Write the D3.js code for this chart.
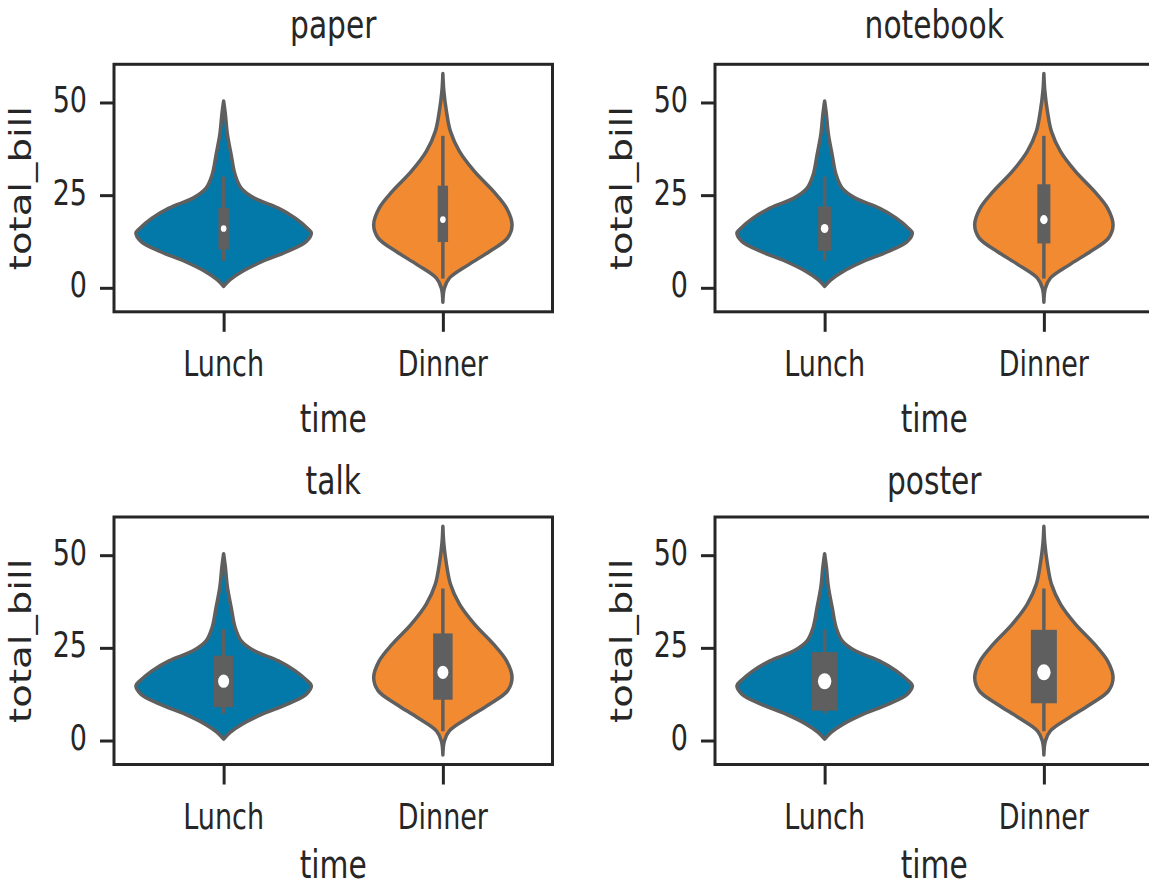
<!DOCTYPE html>
<html>
<head>
<meta charset="utf-8">
<script src="https://cdn.jsdelivr.net/npm/d3@7"></script>
<style>
  body { margin: 0; background: #fff; }
  svg { display: block; }
</style>
</head>
<body>
<svg id="chart" width="1149" height="888"></svg>
<script>
// data (tips: total_bill by time)
const contexts = ["paper", "notebook", "talk", "poster"];
const times = ["Lunch", "Dinner"];
const yTicks = [0, 25, 50];

// violin profiles: total_bill value and density relative to the widest violin
const lunchValues  = [50.4, 46.8, 41.4, 35.9, 30.5, 26.9, 24.2, 21.5, 18.8, 16.1, 14.8, 12.5, 9.8, 7.1, 4.4, 2.2, 0.4];
const lunchDensity = [0, 0.02, 0.043, 0.086, 0.131, 0.2, 0.349, 0.623, 0.817, 0.954, 1.0, 0.943, 0.726, 0.44, 0.211, 0.074, 0];
const dinnerValues  = [57.8, 53.1, 47.7, 42.2, 36.8, 31.4, 26.0, 21.5, 17.0, 13.4, 9.8, 6.2, 2.6, -0.1, -3.9];
const dinnerDensity = [0, 0.011, 0.04, 0.086, 0.189, 0.36, 0.577, 0.726, 0.789, 0.737, 0.531, 0.291, 0.074, 0.017, 0];

// inner box: [q1, median, q3] and whiskers [low, high]
const lunchBox = [11.9, 16.0, 20.0];
const dinnerBox = [13.9, 18.4, 26.0];
const lunchWhiskers = [7.3, 30.0];
const dinnerWhiskers = [2.5, 41.0];

const svg = d3.select("#chart");

const colors = { Lunch: "#0379aa", Dinner: "#f28a32" };
const lineGray = "#5f5f5f";
const ink = "#262626";
const stretch = 1.3;   // glyphs in the reference are taller than wide
const font = "DejaVu Sans, Verdana, sans-serif";

// size of the inner box / median dot per context
const boxWidth = { paper: 10.4, notebook: 13, talk: 19.5, poster: 26 };
const dotR = { paper: 2.8, notebook: 3.8, talk: 5.5, poster: 6.7 };

const panelW = 438.5, panelH = 247.5;
const origins = [
  { left: 114, top: 64.3, titleGap: 26, labelGap: 120 },
  { left: 715, top: 64.3, titleGap: 26, labelGap: 120 },
  { left: 114, top: 517, titleGap: 23, labelGap: 113 },
  { left: 715, top: 517, titleGap: 23, labelGap: 113 }
];

const groups = {
  Lunch: {
    profile: lunchValues.map((v, i) => ({ v: v, d: lunchDensity[i] })),
    box: lunchBox, whiskers: lunchWhiskers
  },
  Dinner: {
    profile: dinnerValues.map((v, i) => ({ v: v, d: dinnerDensity[i] })),
    box: dinnerBox, whiskers: dinnerWhiskers
  }
};

function stretchedText(g, x, y, str, size, anchor, rotate) {
  return g.append("text")
    .attr("transform", `translate(${x},${y}) scale(1,${stretch})` + (rotate ? " rotate(-90)" : ""))
    .attr("text-anchor", anchor)
    .attr("font-family", font)
    .attr("font-size", size)
    .attr("fill", ink)
    .text(str);
}

contexts.forEach((ctx, idx) => {
  const o = origins[idx];
  const left = o.left, top = o.top, right = left + panelW, bottom = top + panelH;

  const x = d3.scaleBand()
    .domain(times)
    .range([left, right])
    .paddingInner(0)
    .paddingOuter(0);

  const y = d3.scaleLinear()
    .domain([-6.47, 60.3])
    .range([bottom, top]);

  const halfMax = x.bandwidth() * 0.4;
  const g = svg.append("g").attr("class", "panel-" + ctx);

  times.forEach(t => {
    const cx = x(t) + x.bandwidth() / 2;
    const grp = groups[t];

    const area = d3.area()
      .y(d => y(d.v))
      .x0(d => cx - d.d * halfMax)
      .x1(d => cx + d.d * halfMax)
      .curve(d3.curveCatmullRom.alpha(0.5));

    g.append("path")
      .attr("d", area(grp.profile))
      .attr("fill", colors[t])
      .attr("stroke", lineGray)
      .attr("stroke-width", 3.5)
      .attr("stroke-linejoin", "round");

    // whiskers
    g.append("line")
      .attr("x1", cx).attr("x2", cx)
      .attr("y1", y(grp.whiskers[0]))
      .attr("y2", y(grp.whiskers[1]))
      .attr("stroke", lineGray)
      .attr("stroke-width", 3.5);

    // box, drawn like a thick line with projecting caps
    const bw = boxWidth[ctx];
    const ext = bw / 2 * 1.1;
    g.append("rect")
      .attr("x", cx - bw / 2)
      .attr("width", bw)
      .attr("y", y(grp.box[2]) - ext)
      .attr("height", y(grp.box[0]) - y(grp.box[2]) + 2 * ext)
      .attr("fill", lineGray);

    g.append("ellipse")
      .attr("cx", cx)
      .attr("cy", y(grp.box[1]))
      .attr("rx", dotR[ctx])
      .attr("ry", dotR[ctx] * 1.2)
      .attr("fill", "#fff");
  });

  // y axis ticks
  const yAxis = g.append("g")
    .attr("transform", `translate(${left},0)`)
    .call(d3.axisLeft(y).tickValues(yTicks).tickSize(14).tickSizeOuter(0));
  yAxis.select(".domain").remove();
  yAxis.selectAll(".tick line").attr("stroke", ink).attr("stroke-width", 3);
  yAxis.selectAll(".tick text").remove();
  yTicks.forEach(v => {
    stretchedText(g, left - 27, y(v) + 9.5, String(v), 27, "end");
  });

  // x axis ticks
  const xAxis = g.append("g")
    .attr("transform", `translate(0,${bottom})`)
    .call(d3.axisBottom(d3.scalePoint().domain(times).range([x("Lunch") + x.bandwidth() / 2, x("Dinner") + x.bandwidth() / 2]))
      .tickSize(20).tickSizeOuter(0));
  xAxis.select(".domain").remove();
  xAxis.selectAll(".tick line").attr("stroke", ink).attr("stroke-width", 3);
  xAxis.selectAll(".tick text").remove();
  times.forEach(t => {
    stretchedText(g, x(t) + x.bandwidth() / 2, bottom + 64, t, 27, "middle");
  });

  // frame
  g.append("rect")
    .attr("x", left).attr("y", top)
    .attr("width", panelW).attr("height", panelH)
    .attr("fill", "none")
    .attr("stroke", ink)
    .attr("stroke-width", 3);

  // labels and title
  stretchedText(g, (left + right) / 2, bottom + o.labelGap, "time", 29.7, "middle");
  stretchedText(g, left - 83, (top + bottom) / 2, "total_bill", 29.7, "middle", true);
  stretchedText(g, (left + right) / 2, top - o.titleGap, ctx, 29.7, "middle");
});
</script>
</body>
</html>
